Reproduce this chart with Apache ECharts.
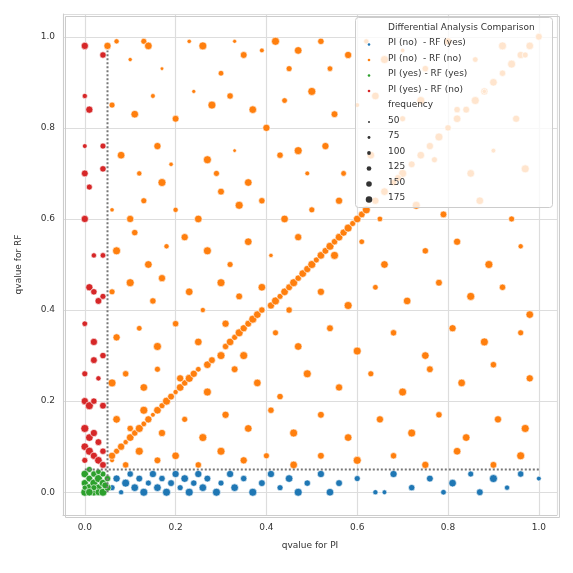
<!DOCTYPE html>
<html><head><meta charset="utf-8">
<script src="https://cdn.jsdelivr.net/npm/echarts@6/dist/echarts.min.js"></script>
<style>html,body{margin:0;padding:0;background:#fff}#c{width:573px;height:573px}</style>
</head><body><div id="c"></div>
<script>
const xTicks=[0,0.2,0.4,0.6,0.8,1.0];
const yTicks=[0,0.2,0.4,0.6,0.8,1.0];
const seriesNames=["PI (no)  - RF (yes)","PI (no)  - RF (no)","PI (yes) - RF (yes)","PI (yes) - RF (no)"];
const sizeLegend=[50,75,100,125,150,175];
// [qvalue PI, qvalue RF, frequency]
const orangeDiag=[[0.06,0.07,90],[0.07,0.09,120],[0.08,0.1,150],[0.09,0.11,100],[0.1,0.12,160],[0.11,0.13,130],[0.12,0.14,170],[0.13,0.15,110],[0.14,0.16,150],[0.15,0.17,90],[0.16,0.18,160],[0.17,0.19,120],[0.18,0.2,170],[0.19,0.21,140],[0.2,0.22,100],[0.21,0.23,160],[0.22,0.24,130],[0.23,0.25,170],[0.24,0.26,150],[0.25,0.27,110],[0.27,0.28,160],[0.28,0.29,140],[0.3,0.3,170],[0.31,0.32,130],[0.32,0.33,160],[0.33,0.34,120],[0.34,0.35,170],[0.35,0.36,150],[0.36,0.37,140],[0.37,0.38,170],[0.38,0.39,160],[0.39,0.4,130],[0.41,0.41,150],[0.42,0.42,170],[0.43,0.43,120],[0.44,0.44,160],[0.45,0.45,140],[0.46,0.46,170],[0.47,0.47,130],[0.48,0.48,160],[0.49,0.49,150],[0.5,0.5,170],[0.51,0.51,120],[0.52,0.52,160],[0.53,0.53,140],[0.54,0.54,170],[0.55,0.55,130],[0.56,0.56,160],[0.57,0.57,150],[0.58,0.58,170],[0.59,0.59,120],[0.6,0.6,160],[0.61,0.61,140],[0.62,0.62,170],[0.64,0.64,150],[0.66,0.66,160],[0.68,0.68,130],[0.7,0.7,170],[0.72,0.72,140],[0.74,0.74,160],[0.76,0.76,150],[0.78,0.78,170],[0.8,0.8,130],[0.82,0.82,160],[0.84,0.84,140],[0.86,0.86,170],[0.88,0.88,150],[0.9,0.9,160],[0.92,0.92,130],[0.94,0.94,170],[0.96,0.96,150],[0.98,0.98,160],[1.0,1.0,140]];
const orangeScatter=[[0.05,0.98,150],[0.07,0.99,100],[0.1,0.95,75],[0.13,0.99,120],[0.14,0.98,160],[0.17,0.93,60],[0.23,0.99,80],[0.26,0.98,170],[0.3,0.92,110],[0.33,0.99,70],[0.35,0.96,140],[0.39,0.97,90],[0.42,0.99,170],[0.45,0.93,120],[0.47,0.97,160],[0.52,0.99,130],[0.54,0.93,110],[0.58,0.96,150],[0.62,0.99,100],[0.66,0.95,170],[0.7,0.97,80],[0.75,0.93,130],[0.8,0.99,150],[0.86,0.95,110],[0.92,0.98,170],[0.97,0.96,120],
[0.06,0.85,120],[0.11,0.83,160],[0.15,0.87,90],[0.2,0.82,140],[0.24,0.88,70],[0.28,0.85,170],[0.32,0.87,130],[0.37,0.84,160],[0.4,0.8,150],[0.44,0.86,110],[0.5,0.88,170],[0.55,0.83,140],[0.6,0.85,90],[0.64,0.87,160],[0.7,0.82,120],[0.74,0.86,170],[0.82,0.84,130],[0.88,0.88,80],[0.95,0.82,150],
[0.08,0.74,160],[0.12,0.7,100],[0.16,0.76,150],[0.19,0.72,80],[0.27,0.73,170],[0.29,0.7,120],[0.33,0.75,60],[0.36,0.68,160],[0.43,0.74,130],[0.47,0.75,170],[0.49,0.7,90],[0.53,0.76,150],[0.57,0.7,110],[0.63,0.74,160],[0.69,0.69,140],[0.77,0.73,120],[0.85,0.7,160],[0.9,0.75,90],[0.97,0.71,170],
[0.06,0.62,80],[0.1,0.6,150],[0.13,0.64,120],[0.17,0.68,170],[0.2,0.62,100],[0.25,0.6,160],[0.3,0.66,140],[0.34,0.63,170],[0.39,0.64,130],[0.44,0.6,160],[0.5,0.62,120],[0.56,0.64,150],[0.65,0.6,110],[0.73,0.63,170],[0.79,0.61,140],[0.87,0.64,160],[0.94,0.6,120],
[0.07,0.53,170],[0.11,0.57,130],[0.14,0.5,160],[0.18,0.54,100],[0.22,0.56,150],[0.27,0.53,170],[0.32,0.5,120],[0.36,0.55,160],[0.41,0.52,80],[0.47,0.56,150],[0.55,0.52,170],[0.61,0.55,110],[0.66,0.5,160],[0.75,0.53,130],[0.82,0.55,150],[0.89,0.5,170],[0.96,0.54,100],
[0.06,0.44,120],[0.1,0.46,170],[0.15,0.42,130],[0.17,0.47,150],[0.23,0.44,160],[0.26,0.4,100],[0.3,0.46,170],[0.34,0.43,140],[0.39,0.45,160],[0.45,0.4,130],[0.52,0.44,150],[0.58,0.41,170],[0.64,0.45,110],[0.71,0.42,160],[0.78,0.46,140],[0.85,0.43,170],[0.92,0.45,130],[0.98,0.39,160],
[0.07,0.34,150],[0.12,0.36,110],[0.16,0.32,170],[0.2,0.37,130],[0.25,0.33,160],[0.31,0.37,150],[0.35,0.3,170],[0.42,0.35,120],[0.47,0.32,160],[0.54,0.36,140],[0.6,0.31,170],[0.68,0.35,130],[0.75,0.3,160],[0.81,0.36,150],[0.88,0.33,170],[0.96,0.35,120],
[0.06,0.24,170],[0.09,0.26,130],[0.13,0.23,160],[0.16,0.27,120],[0.21,0.25,150],[0.27,0.22,170],[0.33,0.27,140],[0.38,0.24,160],[0.43,0.21,130],[0.49,0.26,170],[0.56,0.23,150],[0.63,0.26,120],[0.7,0.22,170],[0.76,0.27,140],[0.83,0.24,160],[0.9,0.28,130],[0.98,0.25,150],
[0.07,0.16,160],[0.1,0.14,130],[0.13,0.18,170],[0.17,0.13,150],[0.22,0.16,120],[0.26,0.12,170],[0.31,0.17,150],[0.36,0.14,160],[0.41,0.18,130],[0.46,0.13,170],[0.52,0.17,140],[0.58,0.12,160],[0.65,0.16,150],[0.72,0.13,170],[0.78,0.17,130],[0.84,0.12,160],[0.91,0.16,150],[0.97,0.14,170],
[0.06,0.08,150],[0.09,0.06,130],[0.12,0.09,170],[0.16,0.07,140],[0.2,0.08,160],[0.25,0.06,130],[0.3,0.09,170],[0.35,0.07,150],[0.4,0.08,120],[0.46,0.06,160],[0.52,0.08,140],[0.6,0.07,170],[0.68,0.08,130],[0.75,0.06,150],[0.82,0.09,160],[0.9,0.06,140],[0.96,0.08,170]];
const blue=[[0.06,0.01,120],[0.07,0.03,150],[0.08,0.0,100],[0.09,0.02,170],[0.1,0.04,130],[0.11,0.01,160],[0.12,0.03,140],[0.13,0.0,170],[0.14,0.02,120],[0.15,0.04,150],[0.16,0.01,160],[0.17,0.03,130],[0.18,0.0,170],[0.19,0.02,140],[0.2,0.04,150],[0.21,0.01,120],[0.22,0.03,160],[0.23,0.0,170],[0.24,0.02,130],[0.25,0.04,150],[0.26,0.01,160],[0.27,0.03,140],[0.29,0.0,170],[0.3,0.02,120],[0.32,0.04,150],[0.33,0.01,160],[0.35,0.03,130],[0.37,0.0,170],[0.39,0.02,140],[0.41,0.04,150],[0.43,0.01,120],[0.45,0.03,160],[0.47,0.0,170],[0.49,0.02,130],[0.52,0.04,150],[0.54,0.0,160],[0.56,0.02,140],[0.6,0.03,120],[0.64,0.0,100],[0.66,0.0,90],[0.68,0.04,150],[0.72,0.01,130],[0.76,0.03,140],[0.79,0.0,110],[0.81,0.02,160],[0.85,0.04,120],[0.87,0.0,140],[0.9,0.03,170],[0.93,0.01,100],[0.96,0.04,130],[1.0,0.03,90]];
const green=[[0.0,0.0,170],[0.0,0.02,150],[0.0,0.04,160],[0.01,0.01,170],[0.01,0.03,140],[0.01,0.05,120],[0.02,0.0,160],[0.02,0.02,170],[0.02,0.04,130],[0.03,0.01,150],[0.03,0.03,170],[0.03,0.0,140],[0.04,0.02,160],[0.04,0.04,120],[0.04,0.0,170],[0.05,0.01,150],[0.05,0.03,130],[0.0,0.01,100],[0.02,0.01,120],[0.03,0.045,110],[0.01,0.0,160],[0.045,0.015,140]];
const red=[[0.0,0.98,150],[0.04,0.96,130],[0.0,0.87,100],[0.01,0.84,150],[0.0,0.76,90],[0.04,0.76,120],[0.04,0.71,130],[0.0,0.7,140],[0.01,0.67,120],[0.0,0.6,150],[0.02,0.52,100],[0.04,0.52,110],[0.01,0.45,150],[0.02,0.44,130],[0.03,0.42,140],[0.04,0.43,120],[0.0,0.37,110],[0.02,0.33,150],[0.04,0.3,130],[0.02,0.29,140],[0.0,0.26,120],[0.03,0.25,100],[0.0,0.2,150],[0.01,0.19,170],[0.02,0.2,130],[0.04,0.19,140],[0.0,0.14,170],[0.01,0.12,160],[0.02,0.13,150],[0.03,0.11,140],[0.0,0.1,160],[0.01,0.09,170],[0.02,0.08,150],[0.03,0.07,160],[0.04,0.09,130],[0.04,0.06,140],[0.0,0.07,120]];
const orange=orangeDiag.concat(orangeScatter);
const colors=["#1f77b4","#ff7f0e","#2ca02c","#d62728"];
const sz=v=>2.8+(v[2]-40)*0.04;
const mk=(name,data,c)=>({name,type:"scatter",data,symbolSize:sz,itemStyle:{color:c,borderColor:"#fff",borderWidth:0.6,opacity:1},z:3});
const chart=echarts.init(document.getElementById("c"));
const legendItems=[];
let ly=29;
legendItems.push({type:"text",left:388,top:ly-6,style:{text:"Differential Analysis Comparison",fontSize:9,fill:"#333",fontFamily:"DejaVu Sans"}});
seriesNames.forEach((n,i)=>{ly+=15.5;legendItems.push({type:"circle",shape:{cx:369,cy:ly,r:1.3},style:{fill:colors[i]}});legendItems.push({type:"text",left:388,top:ly-6,style:{text:n,fontSize:9,fill:"#333",fontFamily:"DejaVu Sans"}});});
ly+=15.5;legendItems.push({type:"text",left:388,top:ly-6,style:{text:"frequency",fontSize:9,fill:"#333",fontFamily:"DejaVu Sans"}});
sizeLegend.forEach((f,i)=>{ly+=15.5;legendItems.push({type:"circle",shape:{cx:369,cy:ly,r:1+i*0.45},style:{fill:"#333"}});legendItems.push({type:"text",left:388,top:ly-6,style:{text:String(f),fontSize:9,fill:"#333",fontFamily:"DejaVu Sans"}});});
chart.setOption({
 animation:false,
 textStyle:{fontFamily:"DejaVu Sans"},
 grid:{left:63,right:16,top:14,bottom:58},
 xAxis:{type:"value",min:-0.048,max:1.04,name:"qvalue for PI",nameLocation:"middle",nameGap:26,nameTextStyle:{fontSize:9,color:"#333"},
  axisLine:{show:true,onZero:false,lineStyle:{color:"#ccc"}},axisTick:{show:false},
  axisLabel:{fontSize:9,color:"#333",customValues:xTicks,formatter:v=>v.toFixed(1)},
  splitLine:{show:true,lineStyle:{color:"#ddd",width:1.2},customValues:xTicks}},
 yAxis:{type:"value",min:-0.05,max:1.05,name:"qvalue for RF",nameLocation:"middle",nameGap:40,nameTextStyle:{fontSize:9,color:"#333"},
  axisLine:{show:true,onZero:false,lineStyle:{color:"#ccc"}},axisTick:{show:false},
  axisLabel:{fontSize:9,color:"#333",customValues:yTicks,formatter:v=>v.toFixed(1)},
  splitLine:{show:true,lineStyle:{color:"#ddd",width:1.2},customValues:yTicks}},
 series:[
  mk(seriesNames[1],orange,colors[1]),
  mk(seriesNames[0],blue,colors[0]),
  mk(seriesNames[3],red,colors[3]),
  mk(seriesNames[2],green,colors[2]),
  {type:"line",data:[[0.05,0],[0.05,0.97]],symbol:"none",lineStyle:{color:"#777",type:[2,2],width:2},z:5,silent:true},
  {type:"line",data:[[0,0.05],[1,0.05]],symbol:"none",lineStyle:{color:"#777",type:[2,2],width:2},z:5,silent:true}
 ],
 graphic:[{type:"rect",left:355,top:17,shape:{width:197,height:190,r:3},style:{fill:"rgba(255,255,255,0.8)",stroke:"#ccc"},z:100},
  {type:"rect",left:63,top:14,shape:{width:494,height:501},style:{fill:"none",stroke:"#ccc",lineWidth:1},z:99}]
  .concat(legendItems.map(o=>Object.assign(o,{z:101})))
});
</script></body></html>
